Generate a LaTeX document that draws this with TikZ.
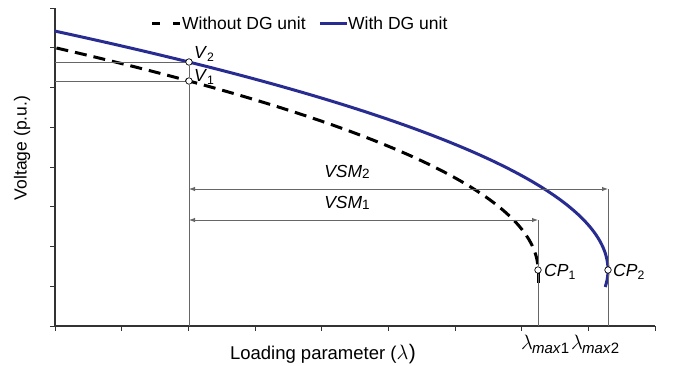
\documentclass[tikz,border=0pt]{standalone}
\usepackage{fontspec}
\setmainfont{Liberation Sans}
\usetikzlibrary{arrows.meta}
\definecolor{dgblue}{RGB}{40,44,145}
\begin{document}
\begin{tikzpicture}[x=1pt,y=-1pt,
  font=\fontsize{17.5}{20}\selectfont,
  axisline/.style={draw=black!80, line width=1.1pt},
  tickmark/.style={draw=black!80, line width=1pt},
  guide/.style={draw=black!60, line width=0.9pt},
  dimline/.style={guide, {Latex[length=6pt,width=4.5pt]}-{Latex[length=6pt,width=4.5pt]}},
  bluecurve/.style={draw=dgblue, line width=3pt},
  dashcurve/.style={draw=black, line width=3pt, dash pattern=on 12pt off 7pt},
  opt/.style={circle, draw=black, fill=white, inner sep=0pt, minimum size=6.5pt, line width=0.7pt},
  lbl/.style={inner sep=0pt}
]
\useasboundingbox (0,0) rectangle (681,365);

% axes
\coordinate (O) at (55,326);
\coordinate (Ytop) at (55,8);
\coordinate (Xend) at (655,326);
\draw[axisline] (Ytop) -- (O) -- (Xend);
\foreach \k in {0,...,8} \draw[tickmark] (50,{326-39.75*\k}) -- (55,{326-39.75*\k});
\foreach \k in {0,...,9} \draw[tickmark] ({55+66.667*\k},326) -- ({55+66.667*\k},331);

% helper coordinates
\coordinate (V2y) at (55,62);
\coordinate (V1y) at (55,81);
\coordinate (L0) at (189,326);
\coordinate (L1) at (538,326);
\coordinate (L2) at (608,326);
\coordinate (A2s) at (189,189);
\coordinate (A2e) at (608,189);
\coordinate (A1s) at (189,220);
\coordinate (A1e) at (538,220);

% curves
\draw[bluecurve] plot[domain=31:287, samples=80, variable=\t, smooth] ({608-(0.09844*(270-\t))*(0.09844*(270-\t))},\t);
\draw[dashcurve] plot[domain=48:268, samples=80, variable=\t, smooth] ({538-(0.09884*(270-\t))*(0.09884*(270-\t))},\t);
\draw[draw=black, line width=3pt] (538,273) -- (538,283);

% points
\node[opt] (V2) at (189,62) {};
\node[opt] (V1) at (189,81) {};
\node[opt] (CP1) at (538,270) {};
\node[opt] (CP2) at (608,270) {};

% guide lines
\draw[guide] (V2y) -- (V2);
\draw[guide] (V1y) -- (V1);
\draw[guide] (V2) -- (V1);
\draw[guide] (V1) -- (L0);
\draw[guide] (A1e) -- (CP1);
\draw[guide] (CP1) -- (L1);
\draw[guide] (A2e) -- (CP2);
\draw[guide] (CP2) -- (L2);
\draw[dimline] (A2s) -- (A2e);
\draw[dimline] (A1s) -- (A1e);

% labels
\node[lbl, anchor=west] (V2l) at (194,54) {\textit{V}\textsubscript{2}};
\node[lbl, anchor=west] (V1l) at (194,77) {\textit{V}\textsubscript{1}};
\node[lbl, anchor=west] (CP1l) at (544,272) {\textit{CP}\textsubscript{1}};
\node[lbl, anchor=west] (CP2l) at (613,272) {\textit{CP}\textsubscript{2}};
\node[lbl] (VSM2) at (347,172) {\textit{VSM}\raisebox{-1pt}{\fontsize{13.5}{16}\selectfont 2}};
\node[lbl] (VSM1) at (347,203) {\textit{VSM}\raisebox{-1pt}{\fontsize{13.5}{16}\selectfont 1}};
\node[lbl, anchor=west] (lm1) at (521,344) {\fontsize{20}{22}\selectfont$\lambda$\kern-1pt\raisebox{-4pt}{\fontsize{15}{17}\selectfont\textit{max}1}};
\node[lbl, anchor=west] (lm2) at (571,344) {\fontsize{20}{22}\selectfont$\lambda$\kern-1pt\raisebox{-4pt}{\fontsize{15}{17}\selectfont\textit{max}2}};
\node[lbl] (xlab) at (323,354) {\fontsize{18.5}{21}\selectfont Loading parameter (\fontsize{21}{23}\selectfont$\lambda$\kern0.5pt)};
\node[lbl, rotate=90] (ylab) at (22,148) {Voltage (p.u.)};

% legend
\coordinate (Ld1) at (152,23);
\coordinate (Ld2) at (180,23);
\coordinate (Lb1) at (320,23);
\coordinate (Lb2) at (347,23);
\draw[draw=black, line width=3pt, dash pattern=on 8pt off 13pt] (Ld1) -- (Ld2);
\node[lbl, anchor=west] (leg1) at (182,23) {Without DG unit};
\draw[bluecurve] (Lb1) -- (Lb2);
\node[lbl, anchor=west] (leg2) at (348,23) {With DG unit};
\end{tikzpicture}
\end{document}
